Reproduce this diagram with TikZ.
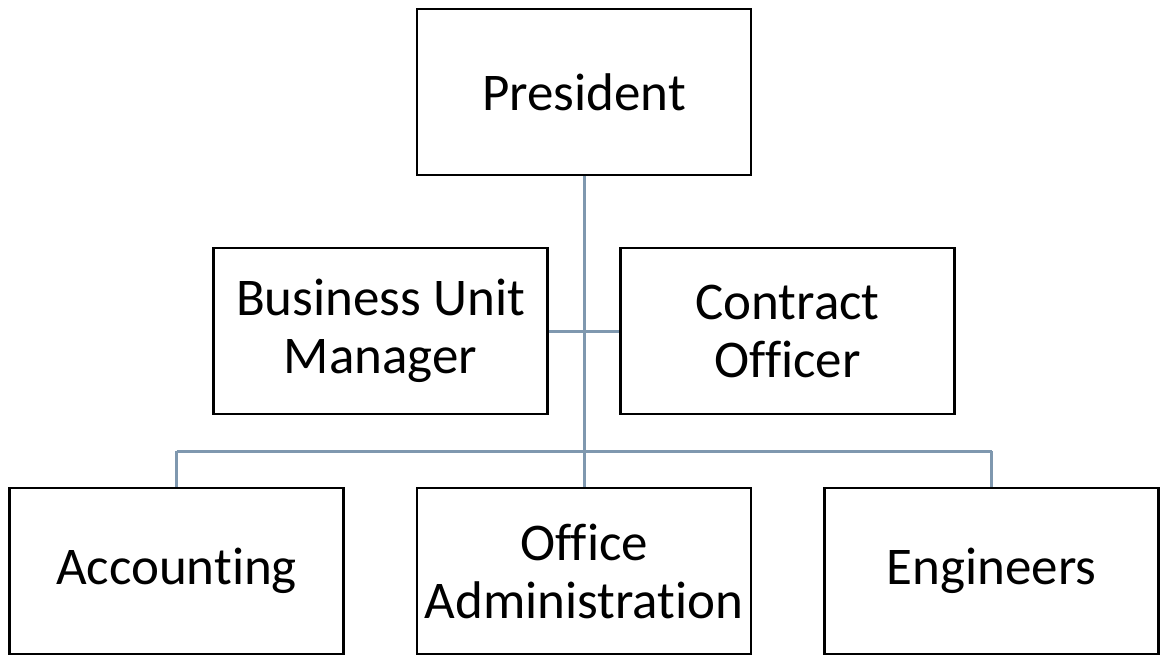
\documentclass[tikz,border=0pt]{standalone}
\usepackage{fontspec}
\setmainfont[Ligatures=NoCommon]{Carlito}
\definecolor{conn}{HTML}{7F98AF}
\begin{document}
\begin{tikzpicture}[x=1pt,y=-1pt,
  box/.style={draw=black,line width=2.6pt,fill=white,minimum width=334pt,minimum height=166pt,inner sep=0pt,align=center,font=\fontsize{53}{58}\selectfont},
  link/.style={draw=conn,line width=3pt}]
\useasboundingbox (0,0) rectangle (1169,666);
\node[box] (pres) at (584,92) {President};
\node[box] (bum) at (380.5,331) {Business Unit\\Manager};
\node[box] (co) at (787.5,331) {Contract\\Officer};
\node[box] (acc) at (176.5,571) {Accounting};
\node[box] (oa) at (584,571) {Office\\Administration};
\node[box] (eng) at (991.5,571) {Engineers};
\coordinate (jl) at (176.5,451);
\coordinate (jr) at (991.5,451);
\draw[link] (pres.south) -- (oa.north);
\draw[link] (bum.east) -- (co.west);
\draw[link] (jl) -- (jr);
\draw[link] (jl) -- (acc.north);
\draw[link] (jr) -- (eng.north);
\end{tikzpicture}
\end{document}
